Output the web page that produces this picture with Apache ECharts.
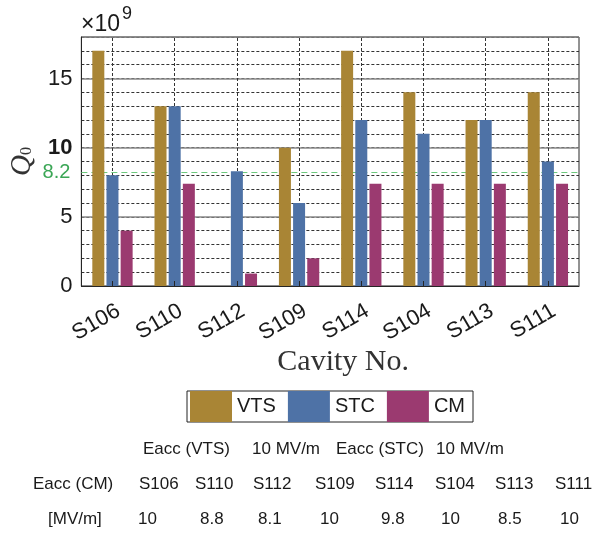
<!DOCTYPE html>
<html><head><meta charset="utf-8">
<script src="https://cdn.jsdelivr.net/npm/echarts@6/dist/echarts.min.js"></script>
<style>html,body{margin:0;padding:0;background:#fff}#c{width:593px;height:534px}</style>
</head><body><div id="c"></div>
<script>
const categories = ['S106','S110','S112','S109','S114','S104','S113','S111'];
const vts = [17, 13, 0, 10, 17, 14, 12, 14];
const stc = [8, 13, 8.3, 6, 12, 11, 12, 9];
const cm  = [4, 7.4, 0.9, 2, 7.4, 7.4, 7.4, 7.4];
const threshold = 8.2;
const yMax = 18;
const eaccVTS = '10 MV/m';
const eaccSTC = '10 MV/m';
const eaccCMCavities = ['S106','S110','S112','S109','S114','S104','S113','S111'];
const eaccCMValues = ['10','8.8','8.1','10','9.8','10','8.5','10'];

const colors = ['#a98535', '#4e72a6', '#9b3a70'];
const sans = 'Liberation Sans, Arial, sans-serif';
const serif = 'Liberation Serif, Times New Roman, serif';
const txt = '#1a1a1a';

const chart = echarts.init(document.getElementById('c'), null, {renderer: 'canvas'});

const colX = [139, 195, 253, 315, 375, 435, 495, 555];
const valX = [138, 200, 258, 320, 381, 441, 498, 560];
const graphics = [
  {type:'text', left:81, top:13, style:{text:'×10', font:'23px ' + sans, fill:txt}},
  {type:'text', left:122, top:5, style:{text:'9', font:'18px ' + sans, fill:txt}},
  {type:'text', left:143, top:441, style:{text:'Eacc (VTS)', font:'17px ' + sans, fill:txt}},
  {type:'text', left:252, top:441, style:{text:eaccVTS, font:'17px ' + sans, fill:txt}},
  {type:'text', left:336, top:441, style:{text:'Eacc (STC)', font:'17px ' + sans, fill:txt}},
  {type:'text', left:436, top:441, style:{text:eaccSTC, font:'17px ' + sans, fill:txt}},
  {type:'text', left:33, top:476, style:{text:'Eacc (CM)', font:'17px ' + sans, fill:txt}},
  {type:'text', left:48, top:511, style:{text:'[MV/m]', font:'17px ' + sans, fill:txt}}
];
eaccCMCavities.forEach((c, i) => {
  graphics.push({type:'text', left:colX[i], top:476, style:{text:c, font:'17px ' + sans, fill:txt}});
  graphics.push({type:'text', left:valX[i], top:511, style:{text:eaccCMValues[i], font:'17px ' + sans, fill:txt}});
});

const option = {
  animation: false,
  backgroundColor: '#fff',
  color: colors,
  grid: {left: 79, top: 37, width: 500, height: 249, show: true, borderColor: '#262626', borderWidth: 1, backgroundColor: 'transparent'},
  legend: {
    data: ['VTS','STC','CM'],
    left: 187, top: 391,
    itemWidth: 42, itemHeight: 31, itemGap: 12,
    padding: [0, 8, 0, 3],
    borderColor: '#222', borderWidth: 1,
    icon: 'rect',
    textStyle: {fontFamily: sans, fontSize: 20, color: txt},
    selectedMode: false
  },
  xAxis: {
    type: 'category',
    data: categories,
    z: 3,
    axisLine: {lineStyle: {color: '#262626', width: 1}},
    axisTick: {show: true, inside: true, alignWithLabel: true, length: 5, lineStyle: {color: '#262626'}},
    axisLabel: {rotate: 30, margin: 27, fontFamily: sans, fontSize: 22, color: txt, interval: 0, padding: [0, -7, 0, 0]},
    splitLine: {show: false},
    name: 'Cavity No.',
    nameLocation: 'middle',
    nameGap: 59,
    nameTextStyle: {fontFamily: serif, fontSize: 30, color: '#333', padding: [0, 0, 0, 26]}
  },
  yAxis: [{
    type: 'value', min: 0, max: yMax, interval: 1,
    axisLine: {show: true, lineStyle: {color: '#262626'}},
    axisTick: {show: false},
    axisLabel: {
      margin: 9, fontFamily: sans, fontSize: 22, color: txt,
      formatter: v => (v % 5 === 0 && v <= 15) ? (v === 10 ? '{b|10}' : String(v)) : '',
      rich: {b: {fontFamily: sans, fontSize: 22, fontWeight: 'bold', color: txt}}
    },
    splitLine: {show: true, lineStyle: {color: '#333', width: 1, type: [3, 2]}},
    name: '{q|Q}{s|0}',
    nameLocation: 'middle',
    nameGap: 44,
    nameTextStyle: {
      rich: {
        q: {fontFamily: serif, fontStyle: 'italic', fontSize: 29, color: '#333'},
        s: {fontFamily: serif, fontSize: 16, color: '#333', padding: [8, 0, 0, 0]}
      }
    }
  }, {
    type: 'value', min: 0, max: yMax, interval: 5,
    axisLine: {show: false}, axisTick: {show: false}, axisLabel: {show: false},
    splitLine: {show: true, lineStyle: {color: '#8a8a8a', width: 1.5, type: 'solid'}}
  }],
  series: [
    {name: 'VTS', type: 'bar', data: vts, barWidth: 12, barGap: '18%', itemStyle: {color: colors[0]}},
    {name: 'STC', type: 'bar', data: stc, barWidth: 12, barGap: '18%', itemStyle: {color: colors[1]}},
    {name: 'CM', type: 'bar', data: cm, barWidth: 12, barGap: '18%', itemStyle: {color: colors[2]}},
    {
      name: 'grid-v', type: 'line', data: [], silent: true,
      markLine: {
        z: 1, silent: true, symbol: 'none', animation: false,
        label: {show: false},
        lineStyle: {color: '#333', width: 1, type: [3, 2]},
        data: categories.map(c => ({xAxis: c}))
      }
    },
    {
      name: 'threshold', type: 'line', data: [], silent: true,
      markLine: {
        z: 1, silent: true, symbol: 'none', animation: false,
        lineStyle: {color: '#6cc97d', width: 1.2, type: [6, 4]},
        label: {show: true, position: 'start', distance: 11, formatter: String(threshold), fontFamily: sans, fontSize: 20, color: '#3aa655'},
        data: [{yAxis: threshold}]
      }
    }
  ],
  graphic: graphics
};
chart.setOption(option);
</script>
</body></html>
